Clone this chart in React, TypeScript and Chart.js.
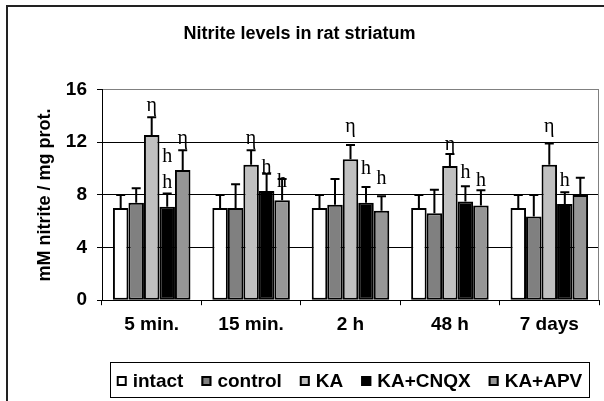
import { useEffect, useRef } from 'react';
import { Chart, registerables } from 'chart.js';

Chart.register(...registerables);

const categories = ['5 min.', '15 min.', '2 h', '48 h', '7 days'];
const seriesNames = ['intact', 'control', 'KA', 'KA+CNQX', 'KA+APV'];

const intactValues = [7.0, 7.0, 7.0, 7.0, 7.0];
const controlValues = [7.4, 7.0, 7.25, 6.6, 6.35];
const kaValues = [12.55, 10.3, 10.7, 10.2, 10.3];
const cnqxValues = [7.1, 8.3, 7.4, 7.5, 7.3];
const apvValues = [9.9, 7.6, 6.8, 7.2, 8.0];

// upper end of each error bar
const intactErrorTop = [8.0, 8.0, 8.0, 8.0, 8.0];
const controlErrorTop = [8.5, 8.8, 9.2, 8.4, 8.0];
const kaErrorTop = [13.9, 11.4, 11.8, 11.1, 11.9];
const cnqxErrorTop = [8.1, 9.6, 8.6, 8.65, 8.2];
const apvErrorTop = [11.4, 9.2, 7.9, 8.35, 9.3];

const yTicks = [0, 4, 8, 12, 16];

// significance marks: label, category index, series index, value level
const markLabels = ['η', 'η', 'h', 'h', 'η', 'h', 'h', 'η', 'h', 'h', 'η', 'h', 'h', 'η', 'h'];
const markCategory = [0, 0, 0, 0, 1, 1, 1, 2, 2, 2, 3, 3, 3, 4, 4];
const markSeries = [2, 4, 3, 3, 2, 3, 4, 2, 3, 4, 2, 3, 4, 2, 3];
const markLevel = [14.8, 12.3, 10.9, 8.9, 12.3, 10.1, 9.0, 13.2, 10.0, 9.2, 11.8, 9.65, 9.1, 13.2, 9.1];

const seriesValues = [intactValues, controlValues, kaValues, cnqxValues, apvValues];
const seriesErrorTops = [intactErrorTop, controlErrorTop, kaErrorTop, cnqxErrorTop, apvErrorTop];
const seriesColors = ['#ffffff', '#808080', '#c0c0c0', '#000000', '#969696'];

const SANS = '"Liberation Sans", Arial, sans-serif';
const SERIF = '"Liberation Serif", "Times New Roman", serif';

const framePlugin = {
  id: 'frame',
  beforeDraw(chart: any) {
    const { ctx, width, height } = chart;
    ctx.save();
    ctx.fillStyle = '#ffffff';
    ctx.fillRect(0, 0, width, height);
    ctx.strokeStyle = '#222222';
    ctx.lineWidth = 2;
    ctx.strokeRect(7, 6, width + 20, height + 20);
    ctx.restore();
  },
  afterDraw(chart: any) {
    const { ctx, chartArea } = chart;
    ctx.save();
    ctx.strokeStyle = '#808080';
    ctx.lineWidth = 1;
    ctx.beginPath();
    ctx.moveTo(chartArea.right - 0.5, chartArea.top);
    ctx.lineTo(chartArea.right - 0.5, chartArea.bottom);
    ctx.stroke();
    ctx.restore();
  },
};

const errorBarPlugin = {
  id: 'errorBars',
  afterDatasetsDraw(chart: any) {
    const { ctx } = chart;
    const y = chart.scales.y;
    chart.data.datasets.forEach((_ds: any, i: number) => {
      const meta = chart.getDatasetMeta(i);
      meta.data.forEach((bar: any, j: number) => {
        const top = y.getPixelForValue(seriesErrorTops[i][j]);
        ctx.save();
        ctx.strokeStyle = '#000000';
        ctx.lineWidth = 2;
        ctx.beginPath();
        ctx.moveTo(bar.x, bar.y);
        ctx.lineTo(bar.x, top);
        ctx.moveTo(bar.x - 4.5, top);
        ctx.lineTo(bar.x + 4.5, top);
        ctx.stroke();
        ctx.restore();
      });
    });
  },
};

const marksPlugin = {
  id: 'marks',
  afterDraw(chart: any) {
    const { ctx } = chart;
    const y = chart.scales.y;
    ctx.save();
    ctx.fillStyle = '#000000';
    ctx.font = `20px ${SERIF}`;
    ctx.textAlign = 'center';
    ctx.textBaseline = 'middle';
    markLabels.forEach((label, k) => {
      const bar = chart.getDatasetMeta(markSeries[k]).data[markCategory[k]];
      ctx.fillText(label, bar.x, y.getPixelForValue(markLevel[k]));
    });
    ctx.restore();
  },
};

const legendPlugin = {
  id: 'boxedLegend',
  afterDraw(chart: any) {
    const { ctx } = chart;
    const datasets = chart.data.datasets;
    ctx.save();
    ctx.font = `bold 19px ${SANS}`;
    const box = 10;
    const gapText = 6;
    const gapItem = 18;
    const widths = datasets.map((d: any) => ctx.measureText(d.label).width);
    const total =
      widths.reduce((s: number, w: number) => s + box + gapText + w, 0) + gapItem * (datasets.length - 1);
    const centerX = 349.5;
    const rowY = 381;
    let x = centerX - total / 2;
    ctx.strokeStyle = '#000000';
    ctx.lineWidth = 1;
    ctx.strokeRect(Math.round(x - 7) + 0.5, 362.5, Math.round(total + 13), 35);
    datasets.forEach((d: any, i: number) => {
      ctx.fillStyle = d.backgroundColor;
      ctx.fillRect(x, rowY - 5, box, box);
      ctx.lineWidth = 2;
      ctx.strokeStyle = '#000000';
      ctx.strokeRect(x + 1, rowY - 4, box - 2, box - 2);
      ctx.fillStyle = '#000000';
      ctx.textAlign = 'left';
      ctx.textBaseline = 'middle';
      ctx.fillText(d.label, x + box + gapText, rowY + 1);
      x += box + gapText + widths[i] + gapItem;
    });
    ctx.restore();
  },
};

export default function App() {
  const canvasRef = useRef<HTMLCanvasElement | null>(null);

  useEffect(() => {
    if (!canvasRef.current) return;
    const chart = new Chart(canvasRef.current, {
      type: 'bar',
      data: {
        labels: categories,
        datasets: seriesNames.map((name, i) => ({
          label: name,
          data: seriesValues[i],
          backgroundColor: seriesColors[i],
          borderColor: '#000000',
          borderWidth: 2,
          borderSkipped: false,
          barPercentage: 1,
          categoryPercentage: 0.78,
        })),
      },
      options: {
        animation: false,
        responsive: false,
        maintainAspectRatio: false,
        layout: { padding: { left: 0, right: 5, top: 0, bottom: 57 } },
        plugins: {
          legend: { display: false },
          tooltip: { enabled: false },
          title: {
            display: true,
            text: 'Nitrite levels in rat striatum',
            color: '#000000',
            font: { family: SANS, size: 18, weight: 'bold' },
            padding: { top: 23, bottom: 45 },
          },
        },
        scales: {
          x: {
            grid: {
              display: true,
              drawOnChartArea: false,
              offset: true,
              tickLength: 5,
              color: '#000000',
            },
            border: { color: '#000000', width: 1 },
            ticks: {
              color: '#000000',
              font: { family: SANS, size: 19, weight: 'bold' },
              padding: 8,
              maxRotation: 0,
            },
          },
          y: {
            min: 0,
            max: 16,
            afterFit(scale: any) {
              scale.width = 102;
            },
            afterBuildTicks(scale: any) {
              scale.ticks = yTicks.map((v) => ({ value: v }));
            },
            grid: {
              color: (c: any) => (c.tick && c.tick.value === 16 ? '#808080' : '#000000'),
              tickColor: '#000000',
              tickLength: 5,
              lineWidth: 1,
            },
            border: { color: '#000000', width: 1 },
            ticks: {
              color: '#000000',
              font: { family: SANS, size: 19, weight: 'bold' },
              padding: 10,
            },
            title: {
              display: true,
              text: 'mM nitrite / mg prot.',
              color: '#000000',
              font: { family: SANS, size: 18, weight: 'bold' },
              padding: { top: 34, bottom: 0 },
            },
          },
        },
      },
      plugins: [framePlugin, errorBarPlugin, marksPlugin, legendPlugin],
    });
    return () => chart.destroy();
  }, []);

  return (
    <div style={{ position: 'fixed', left: 0, top: 0, width: 604, height: 401 }}>
      <canvas ref={canvasRef} width={604} height={401} style={{ width: 604, height: 401 }} />
    </div>
  );
}
